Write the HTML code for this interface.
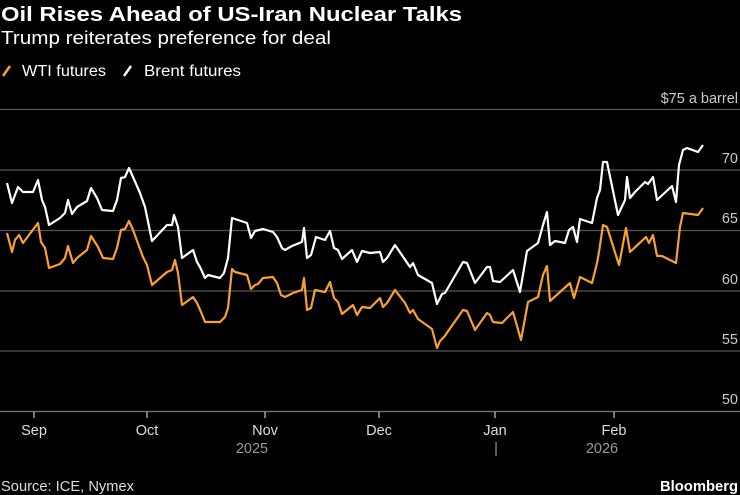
<!DOCTYPE html>
<html><head><meta charset="utf-8"><style>
html,body{margin:0;padding:0;background:#000;}
svg{display:block;font-family:"Liberation Sans",sans-serif;}
</style></head><body>
<svg width="740" height="495" viewBox="0 0 740 495">
<rect width="740" height="495" fill="#000"/>
<text x="1" y="21" fill="#fff" font-size="20" font-weight="bold" textLength="461" lengthAdjust="spacingAndGlyphs">Oil Rises Ahead of US-Iran Nuclear Talks</text>
<text x="1" y="44" fill="#fff" font-size="18" textLength="330" lengthAdjust="spacingAndGlyphs">Trump reiterates preference for deal</text>
<line x1="3" y1="76" x2="10" y2="66" stroke="#f7a132" stroke-width="2.5"/>
<text x="22" y="76" fill="#fff" font-size="15.5" textLength="84" lengthAdjust="spacingAndGlyphs">WTI futures</text>
<line x1="124" y1="76" x2="131" y2="66" stroke="#fff" stroke-width="2.5"/>
<text x="144" y="76" fill="#fff" font-size="15.5" textLength="97" lengthAdjust="spacingAndGlyphs">Brent futures</text>
<g stroke="#555" stroke-width="1.2">
<line x1="0" y1="109.5" x2="740" y2="109.5"/>
<line x1="0" y1="170" x2="740" y2="170"/>
<line x1="0" y1="230.5" x2="740" y2="230.5"/>
<line x1="0" y1="291" x2="740" y2="291"/>
<line x1="0" y1="351" x2="740" y2="351"/>
</g>
<line x1="0" y1="411.5" x2="740" y2="411.5" stroke="#777" stroke-width="1.2"/>
<g fill="#ccc" font-size="14.5" text-anchor="end">
<text x="738" y="103">$75 a barrel</text>
<text x="738" y="163">70</text>
<text x="738" y="223">65</text>
<text x="738" y="284">60</text>
<text x="738" y="344">55</text>
<text x="738" y="404">50</text>
</g>
<g stroke="#ccc" stroke-width="1.2">
<line x1="34" y1="412" x2="34" y2="418"/><line x1="147" y1="412" x2="147" y2="418"/>
<line x1="265" y1="412" x2="265" y2="418"/><line x1="379" y1="412" x2="379" y2="418"/>
<line x1="495" y1="412" x2="495" y2="418"/><line x1="614" y1="412" x2="614" y2="418"/>
</g>
<g fill="#ddd" font-size="14.5" text-anchor="middle">
<text x="34" y="435">Sep</text><text x="147" y="435">Oct</text><text x="265" y="435">Nov</text>
<text x="379" y="435">Dec</text><text x="495" y="435">Jan</text><text x="614" y="435">Feb</text>
</g>
<g fill="#999" font-size="14.5" text-anchor="middle">
<text x="252" y="453">2025</text><text x="496" y="453">|</text><text x="602" y="453">2026</text>
</g>
<text x="1" y="491" fill="#ddd" font-size="14.5" textLength="133" lengthAdjust="spacingAndGlyphs">Source: ICE, Nymex</text>
<text x="660" y="491" fill="#fff" font-size="14.5" font-weight="bold" textLength="78" lengthAdjust="spacingAndGlyphs">Bloomberg</text>
<polyline fill="none" stroke="#f7a132" stroke-width="2.2" stroke-linejoin="round" points="7,233 12,252 15,240 19,235 23,243 38,223 41,242 45,248 49,268 60,264 65,258 68,246 73,263 77,258 87,250 91,236 98,247 103,258 113,259 117,248 121,230 125,229 129,221 133,230 143,257 147,265 152,285 167,272 172,270 175,260 178,273 182,305 193,297 197,303 201,312 205,322 220,322 225,317 228,308 232,269 235,272 247,275 251,289 255,285 258,284 263,278 273,277 277,283 281,295 285,297 293,293 302,290 304,278 307,310 311,308 315,290 325,292 330,282 334,298 338,302 342,314 353,305 357,315 362,307 370,308 380,298 383,307 387,303 395,290 405,303 410,313 413,310 418,319 432,329 437,348 440,341 444,337 463,310 467,311 475,330 487,313 490,315 493,322 502,323 513,312 521,340 528,302 538,297 543,275 547,266 550,301 570,283 574,298 580,277 592,283 597,263 599,252 603,225 607,227 619,265 626,228 630,252 646,237 649,243 653,235 657,256 662,256 676,263 680,227 683,213 698,215 703,208"/>
<polyline fill="none" stroke="#fff" stroke-width="2.2" stroke-linejoin="round" points="7,183 12,203 18,187 23,192 33,192 38,180 42,200 45,207 49,225 60,218 65,213 68,200 72,214 77,207 87,201 91,188 97,198 102,210 113,211 117,200 121,178 125,177 129,168 133,177 140,193 145,207 152,241 167,225 172,225 174,215 178,227 182,258 193,250 197,262 200,267 205,278 208,275 220,278 224,273 228,258 232,218 247,223 251,238 255,231 263,229 273,232 277,237 282,248 285,250 292,246 302,242 304,228 307,258 311,255 316,237 325,240 330,231 334,248 338,250 342,259 352,250 357,262 362,251 370,253 380,252 383,262 387,258 395,245 410,267 413,263 418,275 432,283 437,304 442,294 445,293 463,262 467,263 475,283 487,267 490,267 493,281 500,282 513,270 520,292 527,251 538,243 543,225 547,212 550,245 555,241 565,243 569,230 573,227 577,242 580,219 592,223 597,198 600,190 603,162 607,162 618,215 625,200 627,177 630,198 635,192 645,182 648,184 653,177 657,200 672,186 676,202 679,165 683,150 687,148 698,152 703,145"/>
</svg>
</body></html>
